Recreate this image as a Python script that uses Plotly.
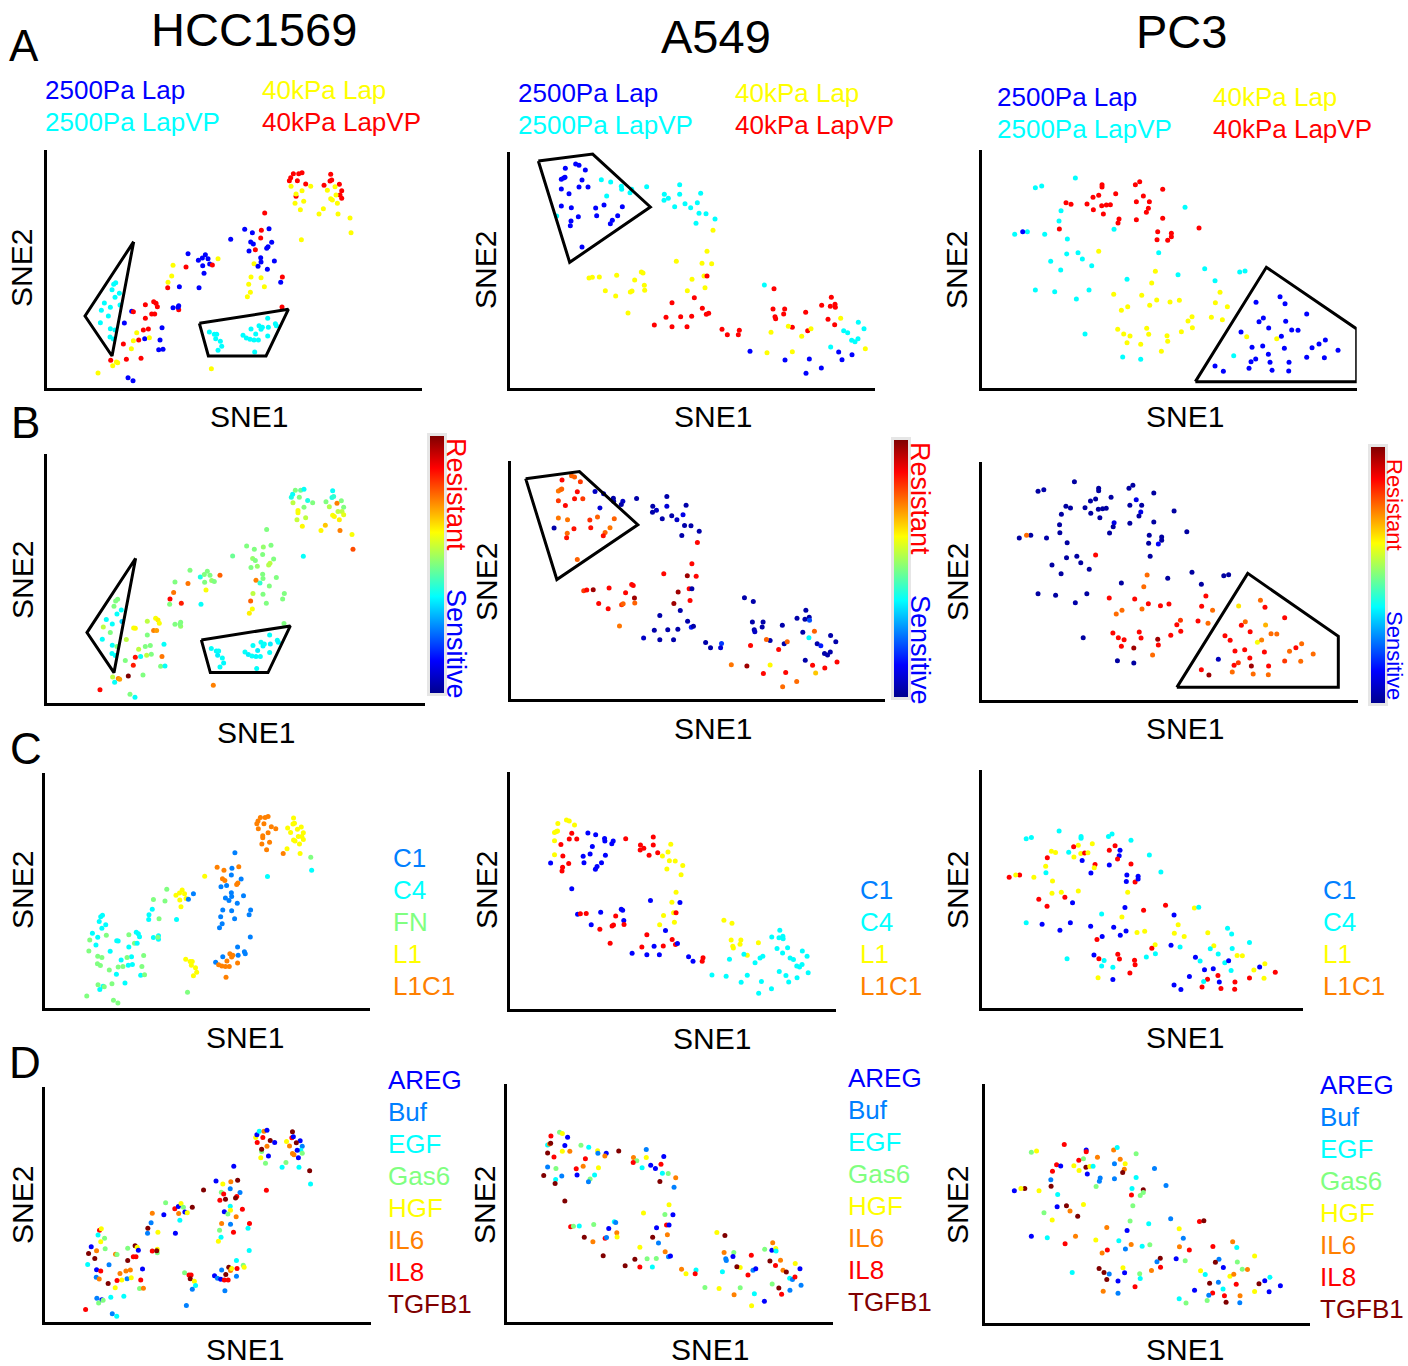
import plotly.graph_objects as go

W, H = 1408, 1366
FONT = "Liberation Sans, Arial, Helvetica, sans-serif"

# ============================ DATA ============================
# Each cell line has one t-SNE map (SNE2 stored top-down) shared by rows A-D.
# cond codes: b=2500Pa Lap, c=2500Pa LapVP, y=40kPa Lap, r=40kPa LapVP
# ecm codes: 1=C1, 4=C4, F=FN, L=L1, X=L1C1
# ligand codes: A=AREG, B=Buf, E=EGF, G=Gas6, H=HGF, 6=IL6, 8=IL8, T=TGFB1

# ---------------- HCC1569 ----------------
hcc_sne1 = [748, 752, 760, 776, 786, 772, 797, 753, 786, 812, 768, 768, 765, 791, 781, 784,
            872, 870, 875, 852, 898, 905, 900, 905, 862, 885, 888, 872, 877, 892, 850, 837, 894, 930, 933,
            674, 614, 637, 664, 687, 662, 572, 632, 640, 695, 684, 680, 627, 646, 662, 663, 642, 654, 682, 703,
            633, 663, 727, 722, 626, 673, 631, 622, 726,
            444, 475, 487, 496, 504, 509, 517, 488, 534, 492, 477, 399, 438, 395, 384, 383, 418, 399, 416, 416, 414,
            221, 227, 216, 238, 225, 193, 211, 240, 184, 205, 181, 211, 225, 210, 220,
            253, 275, 280, 316, 341, 348, 352, 335, 344, 316, 366, 290, 325, 310, 314, 328, 296, 280, 360, 356,
            369, 250, 274, 212, 229, 233, 218, 259, 303, 174, 264, 279,
            508, 523, 530, 527, 541, 545, 534, 609, 619, 630, 642, 655, 633, 647, 657, 663, 667, 683, 685, 706,
            709, 683, 644,
            514]
hcc_sne2 = [122, 113, 101, 101, 98, 122, 132, 139, 152, 139, 169, 162, 190, 184, 209, 299,
            103, 123, 120, 136, 133, 152, 165, 175, 151, 140, 165, 176, 180, 190, 206, 222, 222, 234, 278,
            219, 268, 278, 271, 266, 294, 298, 306, 312, 307, 320, 325, 333, 329, 353, 366, 371, 379, 388, 363,
            411, 413, 411, 427, 433, 440, 457, 470, 501,
            341, 361, 354, 344, 356, 372, 375, 377, 356, 400, 443, 376, 381, 408, 427, 443, 440, 503, 497, 509, 502,
            433, 428, 449, 460, 472, 489, 502, 495, 511, 528, 548, 566, 570, 591, 597,
            549, 514, 515, 494, 485, 490, 500, 522, 522, 535, 563, 578, 567, 570, 596, 593, 600, 602, 600, 629,
            628, 612, 626, 661, 666, 668, 677, 658, 655, 699, 713, 722,
            576, 583, 583, 596, 604, 619, 631, 586, 594, 598, 600, 600, 567, 582, 557, 568, 562, 535, 562, 551,
            557, 588, 636,
            686]
hcc_cond = ("rrrrrrryyyryyyyy" "rrrrrrrryyyyyyyyyyy" "rbbrbrbbbbbbbrbbybbbyyrbyyyyr"
            "bbbbbbrbybbyryyrbbbrb" "ccccccccccccccc" "bbrrrrrrrrbyrrbyrybbbryryyyrrybb"
            "ccccccccccccccccccccccc" "y")
hcc_resist = [0.40, 0.38, 0.50, 0.48, 0.38, 0.50, 0.40, 0.56, 0.50, 0.50, 0.62, 0.62, 0.57, 0.56, 0.63, 0.38,
              0.38, 0.40, 0.42, 0.50, 0.50, 0.50, 0.56, 0.60, 0.55, 0.75, 0.56, 0.62, 0.63, 0.64, 0.68, 0.63,
              0.75, 0.62, 0.80,
              0.50, 0.50, 0.50, 0.52, 0.50, 0.50, 0.48, 0.52, 0.50, 0.50, 0.56, 0.55, 0.50, 0.52, 0.50, 0.50,
              0.75, 0.42, 0.50, 0.50, 0.56, 0.50, 0.50, 0.50, 0.78, 0.50, 0.62, 0.64, 0.50,
              0.50, 0.40, 0.50, 0.50, 0.50, 0.52, 0.50, 0.50, 0.78, 0.62, 0.38, 0.50, 0.76, 0.76, 0.87, 0.50,
              0.85, 0.50, 0.50, 0.52, 0.50,
              0.50, 0.50, 0.50, 0.38, 0.38, 0.38, 0.38, 0.33, 0.56, 0.50, 0.38, 0.38, 0.50, 0.38, 0.38,
              0.56, 0.62, 0.63, 0.56, 0.62, 0.64, 0.62, 0.75, 0.72, 0.50, 0.38, 0.56, 0.50, 0.50, 0.56, 0.50,
              0.38, 0.86, 0.76, 0.50, 0.38, 0.50, 0.85, 0.56, 0.75, 0.72, 0.38, 1.00, 0.50, 0.87, 0.50, 0.38,
              0.38, 0.37, 0.38, 0.36, 0.38, 0.37, 0.38, 0.38, 0.36, 0.38, 0.37, 0.38, 0.38, 0.36, 0.38, 0.37,
              0.38, 0.38, 0.36, 0.38, 0.37, 0.38, 0.38,
              0.75]
hcc_ecm = ("XXXXXXXXXXXXXXX4" "LLLLLLLLLLLLLLLXLF4" "1XX1X1LXX1XX" "11111111111111111"
           "FLLLLL1L1L4FF444F444F" "4444444FF4FFFFF" "444F444F44F44F44FFF4FF4F4F4F4FFF"
           "LLLLLLL1XXXX1XXXX1111XX" "F")
hcc_lig = ("HAE6A8T86AGTHAG8" "T8AHABEG6TA66AGEETE" "AAH6TBTG8B8T8TEHAG686B8EG8EHE"
           "G8AHGAH6TEA6ABTBH8HGT" "8HEGHA6GTTEA8B6" "B6GGTHA88TA666BHH88G6THBAGGEE8BE"
           "G88THEBABA88BTT6HE8GHBBB")
hcc_gates_a = [([281, 135, 216], [305, 528, 648]), ([478, 745, 678, 505], [550, 508, 648, 648])]
hcc_gates_b = hcc_gates_a

# ---------------- A549 ----------------
a549_sne1 = [181, 212, 222, 241, 169, 176, 180, 231, 169, 192, 222, 249, 169, 199, 272, 297, 352, 220, 275, 198,
             196, 322, 316, 338, 231,
             155, 289, 317, 349, 350, 380, 375, 305,
             425, 478, 490, 477, 524, 524, 587, 509, 540, 557, 577, 582, 603, 630, 573,
             624, 606, 514, 591, 620, 597, 561, 600, 547,
             252, 262, 283, 335, 409, 414, 389, 418, 419, 301, 376, 381, 332, 369,
             606, 568, 501, 592, 604, 611, 483, 527, 560, 501, 546, 448, 651, 667, 703, 700,
             778, 807, 804, 839, 810, 812, 836, 902, 950, 979, 976, 990, 991, 969, 989, 862, 908,
             850, 918, 798, 890, 1007,
             1060, 1077, 1016, 1028, 1040, 1050, 1059, 977,
             1081, 786, 862,
             735, 840, 913, 903, 949, 1001, 1011, 1041]
a549_sne2 = [70, 57, 61, 75, 103, 99, 97, 105, 132, 146, 126, 126, 183, 188, 189, 180, 185, 215, 212, 228,
             242, 226, 236, 212, 306,
             213, 104, 111, 124, 133, 133, 143, 153,
             125, 148, 160, 166, 119, 148, 145, 185, 176, 188, 173, 205, 206, 222, 235,
             256, 319, 349, 355, 356, 393, 403, 428, 437,
             399, 397, 396, 391, 381, 384, 405, 421, 436, 437, 441, 438, 453, 504,
             393, 458, 473, 490, 508, 505, 517, 515, 514, 545, 545, 540, 553, 569, 556, 569,
             420, 431, 492, 492, 515, 521, 507, 502, 481, 457, 484, 478, 487, 523, 539, 547, 557,
             544, 551, 562, 574, 520,
             532, 551, 557, 563, 586, 590, 581, 606,
             611, 623, 620,
             619, 645, 642, 685, 669, 621, 644, 629]
a549_cond = ("bbbbbbbbbbbbbbbbbbbbbbbbb" "ccccccccccccccccccccccc" "yyyyyyyyyyyyyyyyyyyyyyy"
             "rrrrrrrrrrrrrrrr" "c" "rrrrrrrrrrrrrrrr" "yyyyy" "cccccccc" "yyy" "bbbbbbbb")
a549_resist = [0.87, 0.78, 0.78, 0.82, 0.76, 0.76, 0.78, 0.87, 0.82, 0.87, 0.86, 0.82, 0.76, 0.76, 0.83, 0.78,
               0.78, 0.86, 0.86, 0.77, 0.86, 0.78, 0.86, 0.76, 0.78,
               0.03, 0.06, 0.08, 0.03, 0.03, 0.06, 0.03, 0.08, 0.03, 0.03, 0.06, 0.03, 0.03, 0.08, 0.03, 0.03,
               0.03, 0.06, 0.10, 0.03, 0.03, 0.03, 0.03,
               0.87, 0.87, 0.87, 0.97, 0.87, 0.87, 0.97, 0.87, 0.97, 0.82, 0.87, 0.97, 0.87, 0.87, 0.87, 0.87,
               0.97, 0.78, 0.87, 0.82, 0.78, 0.87, 0.76,
               0.03, 0.03, 0.03, 0.03, 0.15, 0.03, 0.03, 0.03, 0.03, 0.03, 0.03, 0.06, 0.03, 0.03, 0.18, 0.08,
               0.03, 0.03, 0.03, 0.03, 0.03, 0.06, 0.03, 0.03, 0.03, 0.03, 0.03, 0.03, 0.20, 0.03, 0.37, 0.03,
               0.03,
               0.78, 0.78, 0.87, 0.87, 0.78,
               0.03, 0.03, 0.03, 0.15, 0.03, 0.03, 0.03, 0.03,
               0.87, 0.97, 0.63,
               0.76, 0.87, 0.87, 0.77, 0.77, 0.87, 0.68, 0.87]
a549_ecm = ("LLLLLLLXLXXXLX111X1XX1111" "11111111" "XXXXXXLXXLLLLLL" "LL1L1LLLL" "1XX111X1X1XXXX"
            "X1XXX1X1X11111XX" "LLLLLLLL4444444L4" "444444444444444444444444")
a549_lig = ("8GHAE6TAT8H6BG86HBAETGBET" "TGEHBA68" "T6G8BHAEAA8EG6T" "BHHGA8A6T" "8GEGEBA6HT8B6T"
            "ABH6BATGG8ET6HE8" "HT6GBBA8G6AHET8HB" "TAE86" "HA6TEB8G" "BHG" "G6EHAT8B")
a549_gates_a = [([100, 263, 436, 194], [48, 27, 186, 352])]
a549_gates_b = [([62, 238, 429, 164], [66, 45, 203, 366])]

# ---------------- PC3 ----------------
pc3_sne1 = [301, 181, 200, 258, 252, 119, 157, 209, 277, 275, 309, 322, 227, 350, 257, 181, 239, 342, 304, 417,
            630, 551, 456, 609, 689, 720, 794, 810, 330, 443, 497, 776,
            143,
            381, 381, 371, 354, 422, 273, 288, 336, 380, 394, 406, 355, 385, 253, 432, 429, 481, 494, 563, 505,
            484, 523, 520, 514, 484, 563, 548, 546, 578, 589, 589, 672,
            371, 541, 530, 416, 500, 545, 458, 524, 439, 585, 613, 735, 721, 757, 651, 639, 709, 742, 652, 619,
            428, 446, 465, 515, 521, 576, 578, 456, 497, 559, 815, 905,
            843, 915, 930, 995, 865, 852, 932, 881, 950, 969, 798, 919, 831, 863, 928, 1011, 1032, 1051, 1089,
            880, 842, 828, 885, 942, 995, 1048, 720, 745, 822, 891, 941]
pc3_sne2 = [99, 128, 123, 197, 228, 268, 260, 268, 282, 327, 323, 342, 349, 362, 375, 435, 440, 435, 462, 253,
            187, 323, 403, 389, 371, 407, 381, 378, 567, 636, 643, 632,
            260,
            119, 126, 151, 157, 146, 173, 178, 177, 182, 180, 179, 194, 207, 252, 222, 234, 119, 110, 133, 153,
            170, 170, 190, 202, 224, 220, 260, 284, 286, 265, 275, 249,
            319, 379, 414, 448, 451, 465, 485, 481, 496, 471, 466, 442, 473, 485, 515, 528, 517, 524, 548, 560,
            553, 567, 573, 550, 568, 572, 589, 593, 598, 619, 575, 581,
            472, 455, 476, 507, 519, 530, 529, 549, 555, 556, 561, 574, 607, 603, 610, 608, 597, 585, 616,
            628, 642, 650, 652, 652, 637, 638, 663, 679, 670, 676, 678]
pc3_cond = ("cccccccccccccccccccccccccccccccc" "b" "rrrrrrrrrrrrrrrrrrrrrrrrrrrrrrrr"
            "yyyyyyyyyyyyyyyyyyyyyyyyyyyyyyyy" "bbbbbbbbbbbbbbbbbbbbbbbbbbbbbbb")
pc3_resist = [0.02, 0.02, 0.03, 0.02, 0.02, 0.02, 0.02, 0.03, 0.02, 0.02, 0.02, 0.02, 0.02, 0.02, 0.02, 0.02,
              0.02, 0.02, 0.03, 0.02, 0.02, 0.02, 0.02, 0.02, 0.02, 0.02, 0.02, 0.02, 0.02, 0.02, 0.02, 0.05,
              0.77,
              0.02, 0.02, 0.02, 0.02, 0.02, 0.02, 0.02, 0.02, 0.02, 0.02, 0.02, 0.02, 0.02, 0.02, 0.10, 0.02,
              0.02, 0.02, 0.02, 0.10, 0.02, 0.02, 0.10, 0.02, 0.02, 0.02, 0.02, 0.02, 0.12, 0.02, 0.02, 0.02,
              0.87, 0.77, 0.77, 0.87, 0.87, 0.87, 0.77, 0.77, 0.77, 0.87, 0.87, 0.87, 0.87, 0.77, 0.82, 0.87,
              0.87, 0.77, 0.87, 0.87, 0.87, 0.87, 0.87, 0.87, 0.87, 0.97, 0.87, 0.87, 0.97, 0.77, 0.87, 0.62,
              0.65, 0.77, 0.87, 0.87, 0.77, 0.87, 0.70, 0.87, 0.77, 0.77, 0.87, 0.75, 0.87, 0.87, 0.87, 0.77,
              0.87, 0.77, 0.77, 0.87, 0.82, 0.87, 0.97, 0.87, 0.82, 0.77, 0.87, 0.97, 0.77, 0.77, 0.77]
pc3_ecm = ("444XLXXLLLLXX1X41111" "4L4XX1L44L11" "L" "44LXLLL4LXLL14XL444XX11X1X11X114"
           "L1L11111XLLLLLLX14441X4XXXX44X44" "L444L444LL11114L1LXXX41XXL11XXX")
pc3_lig = ("8GH8BATHEAT6GTHAE68GBG6EBH8TE6BA" "H" "A8G868AHTHEHATBB6EG6BH6TBEE8GTGB"
           "HGAHE68B6EGB68TBAG86TTBHAGETA8EH" "86EHBTGAG6H6TB8TAEAE8B86HAEGGTB")
pc3_gates_a = [([661, 874, 1145, 1145], [710, 367, 552, 710])]
pc3_gates_b = [([639, 873, 1172, 1172], [716, 374, 563, 716])]

cell_lines = ["HCC1569", "A549", "PC3"]
cond_labels = {"b": "2500Pa Lap", "c": "2500Pa LapVP", "y": "40kPa Lap", "r": "40kPa LapVP"}
ecm_labels = {"1": "C1", "4": "C4", "F": "FN", "L": "L1", "X": "L1C1"}
lig_labels = {"A": "AREG", "B": "Buf", "E": "EGF", "G": "Gas6", "H": "HGF", "6": "IL6", "8": "IL8", "T": "TGFB1"}

# ============================ STYLE ============================
COND_COL = {"b": "#0000FF", "c": "#00FFFF", "y": "#FFFF00", "r": "#FF0000"}
ECM5_COL = {"1": "#0080FF", "4": "#00FFFF", "F": "#80FF80", "L": "#FFFF00", "X": "#FF8000"}
ECM4_COL = {"1": "#0000FF", "4": "#00FFFF", "L": "#FFFF00", "X": "#FF0000"}
LIG_COL = {"A": "#0000FF", "B": "#0080FF", "E": "#00FFFF", "G": "#80FF80", "H": "#FFFF00",
           "6": "#FF8000", "8": "#FF0000", "T": "#800000"}
JET = [[0.0, "#00008F"], [0.125, "#0000FF"], [0.375, "#00FFFF"], [0.625, "#FFFF00"],
       [0.875, "#FF0000"], [1.0, "#800000"]]

columns = [
    dict(sne1=hcc_sne1, sne2=hcc_sne2, cond=hcc_cond, resist=hcc_resist, ecm=hcc_ecm, lig=hcc_lig,
         gates_a=hcc_gates_a, gates_b=hcc_gates_b, ecm_col=ECM5_COL),
    dict(sne1=a549_sne1, sne2=a549_sne2, cond=a549_cond, resist=a549_resist, ecm=a549_ecm, lig=a549_lig,
         gates_a=a549_gates_a, gates_b=a549_gates_b, ecm_col=ECM4_COL),
    dict(sne1=pc3_sne1, sne2=pc3_sne2, cond=pc3_cond, resist=pc3_resist, ecm=pc3_ecm, lig=pc3_lig,
         gates_a=pc3_gates_a, gates_b=pc3_gates_b, ecm_col=ECM4_COL),
]
for col in columns:
    n = len(col["sne1"])
    for key in ("sne2", "cond", "resist", "ecm", "lig"):
        assert len(col[key]) == n, (key, len(col[key]), n)

# panel boxes in pixels (left, right, top, bottom) and axis windows (SNE units)
PANELS = {
    ("A", 0): ((46.7, 421.7, 150, 388), (20, 1145), (744, 30)),
    ("B", 0): ((47.3, 425, 454, 703.3), (16, 1149), (740, -7.5)),
    ("C", 0): ((45, 370, 773, 1007.7), (33, 1130), (738, -48)),
    ("D", 0): ((45, 371, 1087.3, 1321.7), (37, 1137), (740, -46)),
    ("A", 1): ((510, 875, 151.7, 388.3), (15, 1110), (730, 20)),
    ("B", 1): ((510.7, 885, 461, 699.3), (13, 1238), (722, 13.5)),
    ("C", 1): ((510, 836, 772.3, 1009.3), (9, 1181), (743, -115.5)),
    ("D", 1): ((507.3, 833.3, 1084, 1321.7), (24, 1197), (743, -118)),
    ("A", 2): ((981.7, 1356.7, 150, 388.3), (20, 1145), (730, 15)),
    ("B", 2): ((982.3, 1357.7, 461.7, 700), (-3, 1236), (754, 39)),
    ("C", 2): ((982.3, 1302.7, 770, 1008.3), (21, 1189), (748, -124)),
    ("D", 2): ((985, 1310, 1084, 1323.3), (12, 1197), (753, -122)),
}
COLORBARS = [(430, 436, 693), (894, 440, 697), (1371, 447, 703)]


def fx(p):
    return p / W


def fy(p):
    return 1 - p / H


AX = dict(showline=True, linecolor="black", linewidth=3, showgrid=False, zeroline=False,
          showticklabels=False, ticks="", fixedrange=True, mirror=False)

fig = go.Figure()
layout_axes = {}
k = 0
for row in "ABCD":
    for ci, col in enumerate(columns):
        k += 1
        (l, r, t, b), xr, yr = PANELS[(row, ci)]
        sx = "" if k == 1 else str(k)
        layout_axes["xaxis" + sx] = dict(domain=[fx(l), fx(r)], range=list(xr), anchor="y" + sx, **AX)
        layout_axes["yaxis" + sx] = dict(domain=[fy(b), fy(t)], range=list(yr), anchor="x" + sx, **AX)

        marker = dict(size=5, line=dict(width=0))
        if row == "A":
            marker["color"] = [COND_COL[c] for c in col["cond"]]
        elif row == "B":
            bx, btop, bbot = COLORBARS[ci]
            pad = 3
            marker.update(color=col["resist"], colorscale=JET, cmin=0, cmax=1, showscale=True,
                          colorbar=dict(thickness=14, thicknessmode="pixels",
                                        len=(bbot - btop) + 2 * pad, lenmode="pixels",
                                        x=fx(bx - pad), xanchor="left", y=fy(btop - pad), yanchor="top",
                                        xpad=pad, ypad=pad, bgcolor="#E6E6E6", outlinewidth=0,
                                        showticklabels=False, ticks=""))
        elif row == "C":
            marker["color"] = [col["ecm_col"][c] for c in col["ecm"]]
        else:
            marker["color"] = [LIG_COL[c] for c in col["lig"]]

        fig.add_trace(go.Scatter(x=col["sne1"], y=col["sne2"], mode="markers", marker=marker,
                                 xaxis="x" + sx, yaxis="y" + sx, hoverinfo="skip", showlegend=False))

        if row in "AB":
            gates = col["gates_a"] if row == "A" else col["gates_b"]
            for gx, gy in gates:
                fig.add_trace(go.Scatter(x=list(gx) + [gx[0]], y=list(gy) + [gy[0]], mode="lines",
                                         line=dict(color="black", width=3), xaxis="x" + sx, yaxis="y" + sx,
                                         hoverinfo="skip", showlegend=False))

annotations = []


def text(x, y, s, size, color="black", xanchor="center", angle=0):
    if xanchor == "left":
        x -= 2
    annotations.append(dict(x=fx(x), y=fy(y), xref="paper", yref="paper", text=s, showarrow=False,
                            font=dict(family=FONT, size=size, color=color), xanchor=xanchor,
                            yanchor="middle", textangle=angle))


# column titles and panel letters
for name, (x, y) in zip(cell_lines, [(254, 30), (716, 36), (1181, 31)]):
    text(x, y, name, 47)
for letter, (x, y) in zip("ABCD", [(24, 45), (25, 423), (26, 748), (25, 1062)]):
    text(x, y, letter, 44)

# axis labels
sne1_pos = [[(249, 417), (713, 417), (1185, 417)], [(256, 732), (713, 728), (1185, 728)],
            [(245, 1037), (712, 1038), (1185, 1037)], [(245, 1349), (710, 1349), (1185, 1349)]]
sne2_pos = [[(22, 268), (486, 270), (957, 270)], [(22, 580), (486, 582), (957, 582)],
            [(22, 890), (486, 890), (957, 890)], [(22, 1205), (484, 1205), (957, 1205)]]
for ri in range(4):
    for ci in range(3):
        text(*sne1_pos[ri][ci], "SNE1", 30)
        text(*sne2_pos[ri][ci], "SNE2", 30, angle=-90)

# row A condition legends
legA = [((45, 90), (262, 90), (45, 122), (262, 122)),
        ((518, 93), (735, 93), (518, 125), (735, 125)),
        ((997, 97), (1213, 97), (997, 129), (1213, 129))]
for ci in range(3):
    for code, (x, y) in zip("bycr", legA[ci]):
        text(x, y, cond_labels[code], 26, COND_COL[code], xanchor="left")

# row B colorbar labels
resist_lbl = [(456, 494, 644, 27), (920, 498, 650, 27), (1395, 505, 655, 22)]
for x, yr_, ys_, fs in resist_lbl:
    text(x, yr_, "Resistant", fs, "#FF0000", angle=90)
    text(x, ys_, "Sensitive", fs, "#0000FF", angle=90)

# row C ECM legends (text colours from the 5-level palette)
legC = [(393, 858, "14FLX"), (860, 890, "14LX"), (1323, 890, "14LX")]
for x, y0, codes in legC:
    for i, code in enumerate(codes):
        text(x, y0 + 32 * i, ecm_labels[code], 26, ECM5_COL[code], xanchor="left")

# row D ligand legends
legD = [(388, 1080), (848, 1078), (1320, 1085)]
for x, y0 in legD:
    for i, code in enumerate("ABEGH68T"):
        text(x, y0 + 32 * i, lig_labels[code], 26, LIG_COL[code], xanchor="left")

fig.update_layout(width=W, height=H, margin=dict(l=0, r=0, t=0, b=0), paper_bgcolor="white",
                  plot_bgcolor="white", showlegend=False, annotations=annotations, **layout_axes)

fig.write_html("out.html", config={"displayModeBar": False},
               post_script="document.body.style.margin='0';document.body.style.overflow='hidden';")
